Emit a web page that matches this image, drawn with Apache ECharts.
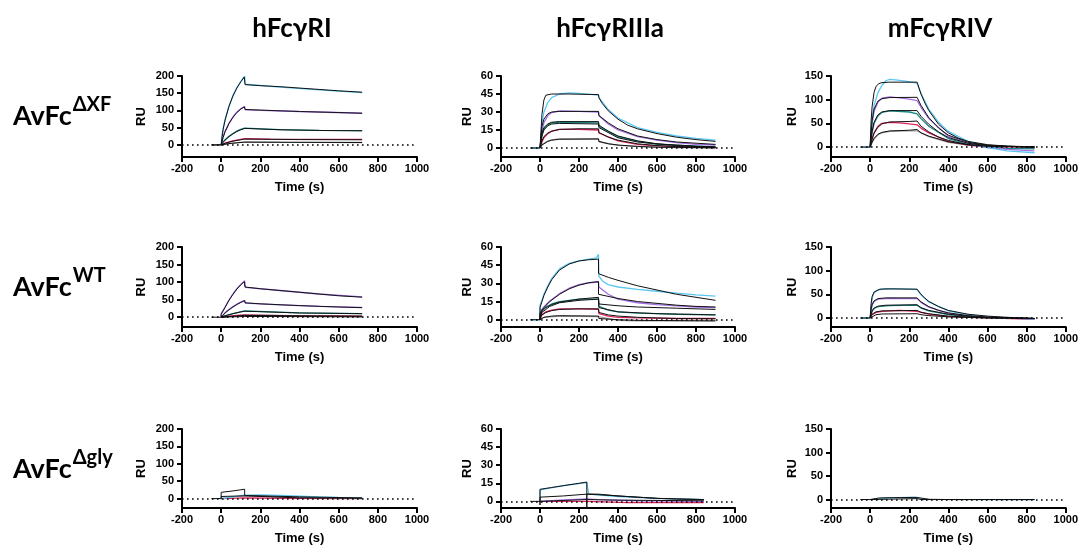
<!DOCTYPE html>
<html><head><meta charset="utf-8">
<script src="https://cdn.jsdelivr.net/npm/echarts@6/dist/echarts.min.js"></script>
<style>html,body{margin:0;padding:0;background:#fff}#c{width:1081px;height:548px}</style>
</head><body><div id="c"></div><script>
// ---------- labels & ticks ----------
const colTitles = ['hFcγRI', 'hFcγRIIIa', 'mFcγRIV'];
const rowMain = ['AvFc', 'AvFc', 'AvFc'];
const rowSup = ['ΔXF', 'WT', 'Δgly'];
const xTicks = [-200, 0, 200, 400, 600, 800, 1000];
const yTicksRI = [0, 50, 100, 150, 200];
const yTicksRIIIa = [0, 15, 30, 45, 60];
const yTicksRIV = [0, 50, 100, 150];
const yMaxByCol = [200, 60, 150];
const yMinByPanel = [[-35, -7.5, -21], [-28, -6, -19], [-27, -5.5, -18]];
const zeroLevel = 0;

// ---------- Row 1: AvFc ΔXF ----------
// hFcγRI
const xfRI_fit1 = [[-50,0],[0,0],[5,25],[10,45],[20,72],[40,112],[60,142],[80,165],[100,183],[118,197],[120,198],[122,175],[200,172],[300,169],[400,165],[500,161],[600,157],[720,153]];
const xfRI_cyan = [[0,0],[5,30],[10,48],[20,74],[40,113],[60,143],[80,166],[100,184],[120,200],[123,176],[300,168],[500,160],[720,152]];
const xfRI_fit2 = [[-50,0],[0,0],[10,22],[20,38],[40,62],[60,80],[80,94],[100,104],[118,110],[120,111],[122,103],[200,101],[400,97],[600,94],[720,92]];
const xfRI_purple = [[0,0],[10,24],[20,40],[40,63],[60,81],[80,95],[100,105],[120,112],[123,102],[400,97],[720,92]];
const xfRI_fit3 = [[0,0],[10,8],[20,14],[40,24],[60,32],[80,39],[100,44],[120,48],[122,46],[300,44],[500,42],[720,41]];
const xfRI_teal = [[0,0],[10,9],[20,15],[40,25],[60,33],[80,40],[100,45],[120,49],[124,46],[300,44.5],[500,42.5],[720,41.5]];
const xfRI_fit4 = [[0,0],[20,5],[60,11],[100,15],[120,17],[122,16],[400,15.5],[720,15]];
const xfRI_red = [[0,0],[20,5],[60,12],[120,18],[250,17],[500,16],[720,16]];
const xfRI_fit5 = [[0,0],[40,4],[120,8],[122,7.5],[720,7]];
const xfRI_grey = [[0,0],[60,5],[120,9],[300,8],[720,7]];
// hFcγRIIIa
const xfRIIIa_fit1 = [[-50,0],[0,0],[10,28],[20,40],[30,44],[60,45],[150,45],[300,44.5],[302,42],[320,37],[350,31],[400,24],[450,19],[500,16],[600,12],[700,9],[800,7],[900,5.5]];
const xfRIIIa_cyan = [[-50,0],[0,0],[10,20],[20,30],[40,38],[60,42],[100,45],[150,46],[200,45.5],[300,44],[302,42],[350,32],[400,25],[500,17],[600,13],[700,10],[800,8],[900,6.5]];
const xfRIIIa_fit2 = [[0,0],[10,18],[20,24],[40,28.5],[60,30],[100,30.5],[300,30.5],[302,27],[350,21],[400,16],[500,10],[600,7],[700,5],[800,4],[900,3]];
const xfRIIIa_purple = [[0,0],[10,14],[20,21],[40,27],[60,29.5],[100,31],[200,30.5],[300,30],[302,27],[350,20],[400,15],[500,9.5],[600,6.5],[700,4.5],[800,3],[900,2.5]];
const xfRIIIa_fit3 = [[0,0],[10,12],[20,17],[40,20],[60,21.5],[100,22],[300,22],[302,19],[350,14],[400,10],[500,6],[600,3.5],[700,2.5],[800,1.5],[900,1]];
const xfRIIIa_teal = [[0,0],[10,11],[20,16],[40,19.5],[60,21],[100,21.5],[300,21],[302,18],[400,9.5],[500,5.5],[600,3],[900,1]];
const xfRIIIa_fit3b = [[0,0],[10,10],[20,15],[40,18.5],[60,20],[100,20.5],[300,20],[302,17],[400,8.5],[500,5],[700,2],[900,0.5]];
const xfRIIIa_fit4 = [[0,0],[10,6],[20,9.5],[40,12.5],[60,14],[100,15.5],[200,16],[300,16],[302,13],[350,9],[400,6.5],[500,3.5],[600,2],[700,1.2],[900,0.5]];
const xfRIIIa_red = [[0,0],[10,5],[20,8.5],[40,12],[60,14],[100,15.5],[200,15.5],[300,15],[302,12.5],[400,6],[500,3],[600,1.8],[900,0.3]];
const xfRIIIa_fit5 = [[0,0],[10,2.5],[20,4],[40,5.5],[60,6.5],[100,7.3],[300,7.5],[302,5.5],[350,3.5],[400,2.5],[500,1.3],[600,0.7],[900,0.2]];
const xfRIIIa_grey = [[0,0],[10,2.8],[20,4.3],[40,5.8],[60,6.8],[100,7.6],[300,7.8],[302,5.2],[400,2.2],[600,0.5],[900,0]];
// mFcγRIV
const xfRIV_fit1 = [[-50,0],[0,0],[5,55],[10,85],[20,115],[30,128],[45,134],[60,136],[100,137],[240,137],[242,136],[260,112],[280,93],[300,77],[350,48],[400,30],[450,19],[500,12],[600,5],[700,2],[840,0.5]];
const xfRIV_cyan = [[-50,0],[0,0],[10,60],[20,88],[40,115],[60,130],[80,140],[100,143],[130,142],[180,139],[240,135],[260,113],[300,80],[350,52],[400,33],[500,12],[600,-1],[700,-8],[840,-12]];
const xfRIV_fit2 = [[0,0],[10,55],[20,80],[40,97],[60,102],[100,104.5],[240,105],[260,88],[300,62],[350,40],[400,25],[500,10],[600,4],[700,1.5],[840,0.3]];
const xfRIV_purple = [[0,0],[10,50],[20,75],[40,95],[60,103],[100,106],[150,104],[200,101],[240,98],[260,84],[300,60],[400,23],[500,7],[600,-1],[700,-5],[840,-8]];
const xfRIV_fit3 = [[0,0],[10,33],[20,52],[40,68],[60,74],[100,77],[240,77],[260,65],[300,48],[350,32],[400,20],[500,8],[600,3],[840,0]];
const xfRIV_teal = [[0,0],[10,30],[20,50],[40,66],[60,73],[100,76.5],[200,74],[240,70],[260,60],[300,44],[400,18],[500,6],[600,0],[700,-3],[840,-4]];
const xfRIV_fit4 = [[0,0],[10,17],[20,29],[40,42],[60,49],[100,53],[200,54],[240,55],[260,44],[300,32],[350,21],[400,14],[500,5],[600,2],[840,0]];
const xfRIV_red = [[0,0],[10,16],[20,30],[40,44],[60,50],[100,52],[150,51],[200,49],[240,47],[260,40],[300,30],[400,12],[500,4],[600,0],[700,-2],[840,-3]];
const xfRIV_fit5 = [[0,0],[10,10],[20,18],[40,27],[60,31],[100,34],[200,35.5],[240,37],[260,30],[300,23],[400,11],[500,5],[600,2],[840,0]];
const xfRIV_grey = [[0,0],[10,9],[20,17],[40,26],[60,30],[100,33],[200,34],[240,34],[300,22],[400,10],[500,4],[840,-1]];

// ---------- Row 2: AvFc WT ----------
const wtRI_fit1 = [[-50,0],[0,0],[0,8],[10,18],[20,28],[40,48],[60,65],[80,80],[100,92],[118,101],[120,102],[122,86],[200,81],[300,76],[400,71],[500,66],[600,61],[720,57]];
const wtRI_purple = [[0,0],[0,10],[20,29],[40,49],[60,66],[80,81],[100,93],[120,104],[123,85],[300,76],[500,66],[720,58]];
const wtRI_fit2 = [[0,0],[0,3],[20,12],[40,21],[60,29],[80,36],[100,42],[120,47],[122,41],[200,38],[400,33],[600,29],[720,27]];
const wtRI_purple2 = [[0,0],[20,13],[40,22],[60,30],[80,37],[100,43],[120,48],[123,40],[300,35],[500,31],[720,28]];
const wtRI_fit3 = [[0,0],[20,4],[60,10],[100,15],[120,17],[122,15],[400,12],[720,10]];
const wtRI_teal = [[0,0],[20,4],[60,10],[120,18],[125,15],[400,12],[720,10]];
const wtRI_fit4 = [[0,0],[40,2],[120,5],[122,4],[720,3]];
const wtRI_red = [[0,0],[60,4],[120,6],[300,4],[720,3]];
const wtRI_fit5 = [[0,0],[120,2],[720,1]];
const wtRI_grey = [[0,0],[120,7],[300,5],[450,3],[720,1]];
// hFcγRIIIa
const wtRIIIa_fit1 = [[-50,0],[0,0],[0,10],[10,15],[20,20],[40,27],[60,33],[100,41],[150,46],[200,48.5],[250,49.5],[300,50],[300,38],[350,35],[400,32.5],[500,28],[600,24.5],[700,21],[800,18.5],[900,16]];
const wtRIIIa_cyan = [[-50,0],[0,0],[0,12],[10,16],[20,21],[40,28],[60,34],[100,42],[150,46.5],[200,48.5],[250,50],[290,51],[300,54],[302,36],[320,32],[350,29],[400,27],[500,25],[600,23.5],[700,22],[800,20.5],[900,19.5]];
const wtRIIIa_fit2 = [[0,0],[0,5],[10,8],[20,10],[50,15],[100,21],[150,25.5],[200,28.5],[250,30.5],[300,31.5],[300,21],[400,17.5],[500,15],[600,13.5],[700,12],[800,11],[900,10.5]];
const wtRIIIa_purple = [[0,0],[0,6],[10,8.5],[20,10.5],[50,15.5],[100,21.5],[150,26],[200,29],[250,30.5],[300,31],[302,27],[350,21],[400,17],[500,14],[600,12.5],[700,11.5],[800,10.5],[900,10]];
const wtRIIIa_fit3 = [[0,0],[0,3],[10,7],[30,10],[60,12.5],[100,14.5],[200,17],[300,18.5],[302,13],[400,11.5],[500,10.5],[600,10],[700,9.5],[800,9],[900,8.5]];
const wtRIIIa_teal = [[0,0],[0,4],[10,7.5],[30,10.5],[60,13],[100,15],[200,17],[300,17],[302,11],[350,8],[400,6.5],[500,5.5],[600,5],[700,4.5],[900,4]];
const wtRIIIa_fit3b = [[0,0],[10,6],[50,11],[100,14],[200,16],[300,17],[302,10],[400,6.5],[600,5],[900,4]];
const wtRIIIa_fit4 = [[0,0],[0,2],[10,4],[30,6],[60,7.5],[100,8.5],[200,9],[300,9],[302,6],[350,4],[400,3],[500,2],[600,1.5],[700,1],[900,0.8]];
const wtRIIIa_red = [[0,0],[10,4],[30,6.5],[60,8],[100,9],[200,9],[300,8.5],[302,5],[350,3],[400,2],[500,1.5],[700,1],[900,1]];
const wtRIIIa_fit5 = [[0,0],[0,1],[20,2],[60,3],[100,3.3],[300,3],[302,1],[400,0],[500,-0.5],[900,-1]];
const wtRIIIa_grey = [[0,0],[20,2],[100,3],[300,2.5],[400,-0.5],[500,-1],[700,-1],[900,-0.8]];
// mFcγRIV
const wtRIV_fit1 = [[-50,0],[0,0],[5,30],[10,45],[20,55],[30,59],[50,61],[100,61.5],[240,61],[260,50],[280,42],[300,35],[350,24],[400,16],[500,8],[600,4],[700,1.5],[840,-1]];
const wtRIV_cyan = [[-50,0],[0,0],[10,42],[20,53],[40,59],[80,62],[150,61.5],[240,60],[260,49],[300,34],[400,15],[500,7],[600,2],[700,0],[840,-2]];
const wtRIV_fit2 = [[0,0],[5,18],[10,28],[20,36],[40,41],[80,42.5],[240,42.5],[260,34],[300,24],[350,16],[400,11],[500,5],[600,2],[840,-1]];
const wtRIV_purple = [[0,0],[10,27],[20,35],[40,40],[100,41.5],[240,41],[260,33],[300,23],[400,10],[500,4],[600,1],[840,-2]];
const wtRIV_fit3 = [[0,0],[10,15],[20,21],[40,25],[80,27],[240,28],[260,22],[300,16],[400,8],[500,4],[600,1],[840,-1]];
const wtRIV_teal = [[0,0],[10,14],[20,20],[40,24],[100,26],[240,27],[260,21],[300,15],[400,7],[500,3],[840,-2]];
const wtRIV_fit4 = [[0,0],[10,8],[30,13],[60,15],[240,16],[260,12],[300,9],[400,4],[500,2],[840,-1]];
const wtRIV_red = [[0,0],[0,-4],[10,7],[30,12],[60,14],[150,16],[240,14],[300,8],[400,3],[840,-3]];
const wtRIV_fit5 = [[0,0],[10,4],[30,7],[60,8.5],[240,9],[260,7],[300,5],[400,2.5],[600,0],[840,-1]];

// ---------- Row 3: AvFc Δgly ----------
const glyRI_fit1 = [[-50,0],[0,0],[0,18],[60,22],[120,27],[120,9],[200,8],[300,6.5],[400,5],[500,4],[600,3],[720,2]];
const glyRI_fit2 = [[0,0],[0,6],[120,8],[120,3],[400,2],[720,1]];
const glyRI_cyan = [[0,0],[0,3],[120,10],[130,12],[200,11],[300,9],[400,7],[500,5],[600,3.5],[720,2]];
const glyRI_grey = [[0,0],[60,5],[120,8],[250,6],[400,4],[720,1]];
const glyRI_red = [[0,0],[120,2],[300,1],[720,0]];
// hFcγRIIIa
const glyRIIIa_fit1 = [[-50,0],[0,0],[0,-3],[0,10],[60,11.5],[120,13],[180,14.5],[240,16],[240,-7],[240,6],[300,5.5],[400,4.5],[500,3.5],[600,2.5],[700,2],[840,1.5]];
const glyRIIIa_fit2 = [[0,0],[0,3.5],[120,4.5],[240,6],[250,6.5],[300,6],[400,4.5],[500,3.5],[600,2.5],[700,2],[840,1.5]];
const glyRIIIa_cyan = [[0,0],[0,9.5],[120,13],[240,15.5],[250,6],[400,4],[600,2.5],[840,1.5]];
const glyRIIIa_fit3 = [[0,0],[0,1],[240,1.5],[400,1],[840,0.5]];
const glyRIIIa_purple = [[0,0],[100,1],[240,2],[300,1.5],[500,0.5],[840,0]];
const glyRIIIa_red = [[0,0],[240,0],[450,-1],[600,-1],[840,-1]];
// mFcγRIV
const glyRIV_fit1 = [[-50,0],[0,0],[10,2.5],[50,3.5],[120,4],[240,4.5],[250,1],[300,0.5],[400,0],[840,0]];
const glyRIV_cyan = [[0,0],[10,2],[100,3.5],[230,5],[250,2],[300,0.5],[840,0]];
const glyRIV_fit2 = [[0,0],[10,1],[240,2],[260,0],[840,0]];

// ---------- colours ----------
const C = {cyan:'#5cc6f2', purple:'#a36ee6', teal:'#178a86', red:'#e0245e', grey:'#a0a0a0', fit:'#111111'};

const panels = [
  [
    [[xfRI_grey,'grey'],[xfRI_red,'red'],[xfRI_teal,'teal'],[xfRI_purple,'purple'],[xfRI_cyan,'cyan'],
     [xfRI_fit5,'fit'],[xfRI_fit4,'fit'],[xfRI_fit3,'fit'],[xfRI_fit2,'fit'],[xfRI_fit1,'fit']],
    [[xfRIIIa_grey,'grey'],[xfRIIIa_red,'red'],[xfRIIIa_teal,'teal'],[xfRIIIa_purple,'purple'],[xfRIIIa_cyan,'cyan'],
     [xfRIIIa_fit5,'fit'],[xfRIIIa_fit4,'fit'],[xfRIIIa_fit3b,'fit'],[xfRIIIa_fit3,'fit'],[xfRIIIa_fit2,'fit'],[xfRIIIa_fit1,'fit']],
    [[xfRIV_grey,'grey'],[xfRIV_red,'red'],[xfRIV_teal,'teal'],[xfRIV_purple,'purple'],[xfRIV_cyan,'cyan'],
     [xfRIV_fit5,'fit'],[xfRIV_fit4,'fit'],[xfRIV_fit3,'fit'],[xfRIV_fit2,'fit'],[xfRIV_fit1,'fit']]
  ],
  [
    [[wtRI_grey,'grey'],[wtRI_red,'red'],[wtRI_teal,'teal'],[wtRI_purple2,'purple'],[wtRI_purple,'purple'],
     [wtRI_fit5,'fit'],[wtRI_fit4,'fit'],[wtRI_fit3,'fit'],[wtRI_fit2,'fit'],[wtRI_fit1,'fit']],
    [[wtRIIIa_grey,'grey'],[wtRIIIa_red,'red'],[wtRIIIa_teal,'teal'],[wtRIIIa_purple,'purple'],[wtRIIIa_cyan,'cyan'],
     [wtRIIIa_fit5,'fit'],[wtRIIIa_fit4,'fit'],[wtRIIIa_fit3b,'fit'],[wtRIIIa_fit3,'fit'],[wtRIIIa_fit2,'fit'],[wtRIIIa_fit1,'fit']],
    [[wtRIV_red,'red'],[wtRIV_teal,'teal'],[wtRIV_purple,'purple'],[wtRIV_cyan,'cyan'],
     [wtRIV_fit5,'fit'],[wtRIV_fit4,'fit'],[wtRIV_fit3,'fit'],[wtRIV_fit2,'fit'],[wtRIV_fit1,'fit']]
  ],
  [
    [[glyRI_red,'red'],[glyRI_grey,'grey'],[glyRI_cyan,'cyan'],[glyRI_fit2,'fit'],[glyRI_fit1,'fit']],
    [[glyRIIIa_red,'red'],[glyRIIIa_purple,'purple'],[glyRIIIa_cyan,'cyan'],[glyRIIIa_fit3,'fit'],[glyRIIIa_fit2,'fit'],[glyRIIIa_fit1,'fit']],
    [[glyRIV_cyan,'cyan'],[glyRIV_fit2,'fit'],[glyRIV_fit1,'fit']]
  ]
];

// ---------- layout ----------
const colLeft = [182, 501, 831];
const colWidth = [235, 234, 235];
const rowTop = [76, 247, 429];
const rowHeight = [81, 80, 79];
const yTicksByCol = [yTicksRI, yTicksRIIIa, yTicksRIV];
const ruGap = [34, 27, 32];
const AX = "'Liberation Sans', Arial, sans-serif";
const TF = "Lato, 'Open Sans', sans-serif";

const grids = [], xAxes = [], yAxes = [], series = [];
let gi = 0;
for (let r = 0; r < 3; r++) {
  for (let c = 0; c < 3; c++) {
    grids.push({left: colLeft[c], top: rowTop[r], width: colWidth[c], height: rowHeight[r], containLabel: false});
    xAxes.push({
      gridIndex: gi, type: 'value', min: xTicks[0], max: xTicks[xTicks.length - 1], interval: 200,
      axisLine: {onZero: false, lineStyle: {color: '#000', width: 2}},
      axisTick: {length: 5, lineStyle: {color: '#000', width: 2}},
      axisLabel: {color: '#000', fontWeight: 'bold', fontSize: 11, fontFamily: AX, margin: 6,
                  showMinLabel: true, showMaxLabel: true, formatter: v => String(v)},
      splitLine: {show: false},
      name: 'Time (s)', nameLocation: 'middle', nameGap: 24,
      nameTextStyle: {color: '#000', fontWeight: 'bold', fontSize: 13, fontFamily: AX}
    });
    const yt = yTicksByCol[c];
    yAxes.push({
      gridIndex: gi, type: 'value', min: yMinByPanel[r][c], max: yMaxByCol[c],
      axisLine: {onZero: false, lineStyle: {color: '#000', width: 2}},
      axisTick: {length: 5, customValues: yt, lineStyle: {color: '#000', width: 2}},
      axisLabel: {customValues: yt, color: '#000', fontWeight: 'bold', fontSize: 11, fontFamily: AX, margin: 8,
                  formatter: v => String(v)},
      splitLine: {show: false},
      name: 'RU', nameLocation: 'middle', nameRotate: 90, nameGap: ruGap[c],
      nameTextStyle: {color: '#000', fontWeight: 'bold', fontSize: 13, fontFamily: AX}
    });
    panels[r][c].forEach(([d, k], idx) => {
      const s = {
        type: 'line', xAxisIndex: gi, yAxisIndex: gi, data: d, symbol: 'none', silent: true,
        z: k === 'fit' ? 3 : 2,
        lineStyle: {color: C[k], width: k === 'fit' ? 1 : 1.3}
      };
      if (idx === 0) {
        s.markLine = {
          silent: true, symbol: ['none', 'none'], label: {show: false},
          lineStyle: {color: '#000', width: 1.6, type: [1.6, 3.4]},
          data: [{yAxis: zeroLevel}]
        };
      }
      series.push(s);
    });
    gi++;
  }
}

// titles & row labels
const graphics = [];
const colTitleX = [292, 610, 940];
colTitles.forEach((t, i) => graphics.push({
  type: 'text', x: colTitleX[i], y: 16,
  style: {text: t, font: "bold 26px " + TF, fill: '#000', align: 'center', verticalAlign: 'top'}
}));
const mainFont = "bold 27px " + TF;
const supFont = "bold 20px " + TF;
const ctx = document.createElement('canvas').getContext('2d');
ctx.font = mainFont;
const mainW = ctx.measureText('AvFc').width;
const rowMainTop = [103, 274, 456];
rowMain.forEach((t, i) => {
  graphics.push({type: 'text', x: 13, y: rowMainTop[i],
    style: {text: t, font: mainFont, fill: '#000', verticalAlign: 'top'}});
  graphics.push({type: 'text', x: 13 + mainW + 1, y: rowMainTop[i] - 8,
    style: {text: rowSup[i], font: supFont, fill: '#000', verticalAlign: 'top'}});
});

const chart = echarts.init(document.getElementById('c'), null, {renderer: 'canvas'});
chart.setOption({
  animation: false, backgroundColor: '#fff',
  grid: grids, xAxis: xAxes, yAxis: yAxes, series: series, graphic: graphics
});
</script></body></html>
